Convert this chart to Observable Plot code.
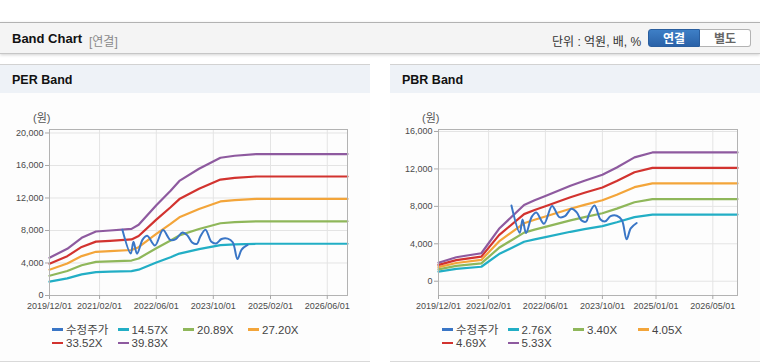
<!DOCTYPE html>
<html>
<head>
<meta charset="utf-8">
<script src="https://cdn.jsdelivr.net/npm/d3@7"></script>
<script src="https://cdn.jsdelivr.net/npm/@observablehq/plot@0.6"></script>
<style>
  html, body { margin: 0; padding: 0; background: #fff; }
  #root { position: relative; width: 760px; height: 364px; overflow: hidden; background: #fff;
    font-family: "Liberation Sans", Arial, "Noto Sans CJK KR", sans-serif; }
  .abs { position: absolute; }
  .topbar { left: 0; top: 22px; width: 760px; height: 30px; background: #f4f4f4;
    border-top: 1px solid #b2b2b2; border-bottom: 1px solid #c6c6c6; box-shadow: 0 1px 3px rgba(0,0,0,0.18); }
  .title { font-weight: bold; font-size: 13px; color: #111; white-space: nowrap; }
  .sub { font-size: 12px; color: #8a8a8a; white-space: nowrap; }
  .unit { font-size: 12px; color: #333; white-space: nowrap; }
  .btn { height: 18px; line-height: 18px; text-align: center; font-size: 12px; font-weight: bold; box-sizing: border-box; }
  .panel { top: 64px; width: 370px; height: 298px; background: #fdfdfd; border-top: 1px solid #d2d2d2; border-bottom: 1px solid #d9d9d9; box-sizing: border-box; }
  .phead { left: 0; top: 0; width: 370px; height: 28px; background: #eef2f7; }
  .ptitle { left: 12px; top: 8px; font-weight: bold; font-size: 12.5px; color: #111; white-space: nowrap; }
  .unitlbl { font-size: 11px; color: #555; white-space: nowrap; }
  .leg { font-size: 11.5px; color: #444; white-space: nowrap; height: 13px; line-height: 13px; }
  .sw { display: inline-block; width: 11px; height: 2.5px; vertical-align: middle; margin-right: 3px; position: relative; top: -1px; }
</style>
</head>
<body>
<div id="root">
  <div class="abs topbar"></div>
  <div class="abs title" style="left:12px;top:31px;">Band Chart</div>
  <div class="abs sub" style="left:89px;top:32px;">[연결]</div>
  <div class="abs unit" style="left:552px;top:32px;">단위 : 억원, 배, %</div>
  <div class="abs btn" style="left:648px;top:29px;width:52px;color:#fff;background:linear-gradient(#3e7fc6,#2a62a8);border:1px solid #2a5e9e;border-radius:3px 0 0 3px;">연결</div>
  <div class="abs btn" style="left:700px;top:29px;width:51px;color:#666;background:#fff;border:1px solid #b3b3b3;border-left:none;border-radius:0 3px 3px 0;">별도</div>

  <div class="abs panel" style="left:0;">
    <div class="abs phead"></div>
    <div class="abs ptitle">PER Band</div>
  </div>
  <div class="abs panel" style="left:390px;">
    <div class="abs phead"></div>
    <div class="abs ptitle">PBR Band</div>
  </div>

  <div class="abs unitlbl" style="left:33px;top:109px;">(원)</div>
  <div class="abs unitlbl" style="left:422px;top:109px;">(원)</div>

  <div id="perChart" class="abs" style="left:0;top:100px;"></div>
  <div id="pbrChart" class="abs" style="left:390px;top:100px;"></div>
  <div id="perLegend"></div>
  <div id="pbrLegend"></div>
</div>
<script>
// ---------- data ----------
const perXTicks = ["2019-12-01", "2021-02-01", "2022-06-01", "2023-10-01", "2025-02-01", "2026-06-01"];
const pbrXTicks = ["2019-12-01", "2021-02-01", "2022-06-01", "2023-10-01", "2025-01-01", "2026-05-01"];
const perYTicks = [0, 4000, 8000, 12000, 16000, 20000];
const pbrYTicks = [0, 4000, 8000, 12000, 16000];

const perLabels = ["수정주가", "14.57X", "20.89X", "27.20X", "33.52X", "39.83X"];
const pbrLabels = ["수정주가", "2.76X", "3.40X", "4.05X", "4.69X", "5.33X"];
const seriesColors = ["#3a76c6", "#22aec5", "#8fb75a", "#f3a53a", "#d2332f", "#8e5a9f"];

// 수정주가 (adjusted price) – same series in both charts
const priceDates = ["2021-08-15", "2021-10-25", "2021-11-18", "2021-12-18", "2022-02-05", "2022-03-15",
  "2022-05-20", "2022-07-28", "2022-09-28", "2022-11-15", "2023-01-10", "2023-02-22", "2023-04-05",
  "2023-05-15", "2023-06-10", "2023-07-26", "2023-09-15", "2023-10-25", "2023-12-10", "2024-02-01",
  "2024-03-15", "2024-04-25", "2024-05-30", "2024-07-20"];
const price = [8100, 5180, 6600, 5150, 6900, 7350, 6150, 8050, 6850, 6950, 7750, 7390, 6500,
  6360, 7200, 8100, 6600, 6400, 6950, 7000, 6550, 4480, 5650, 6220];

// PER band lines
const perDates = ["2019-12-01", "2020-05-01", "2020-09-01", "2021-01-01", "2021-05-01", "2021-11-01",
  "2022-01-01", "2022-06-01", "2022-10-01", "2022-12-15", "2023-06-01", "2023-12-01", "2024-04-01",
  "2024-10-01", "2026-11-21"];
const per1457 = [1700, 2104, 2598, 2882, 2927, 3000, 3182, 4061, 4719, 5158, 5707, 6201, 6291, 6366, 6366];
const per2089 = [2438, 3016, 3725, 4132, 4197, 4301, 4562, 5822, 6766, 7395, 8183, 8891, 9020, 9127, 9127];
const per2720 = [3174, 3928, 4850, 5380, 5464, 5600, 5940, 7581, 8810, 9629, 10654, 11576, 11745, 11884, 11884];
const per3352 = [3912, 4840, 5977, 6630, 6734, 6902, 7321, 9342, 10857, 11866, 13130, 14266, 14474, 14645, 14645];
const per3983 = [4648, 5751, 7102, 7878, 8002, 8201, 8699, 11101, 12901, 14100, 15601, 16952, 17199, 17402, 17402];

// PBR band lines
const pbrDates = ["2019-12-01", "2020-05-01", "2020-12-01", "2021-05-01", "2021-12-01", "2022-03-01",
  "2022-06-01", "2023-01-01", "2023-05-01", "2023-10-01", "2024-02-01", "2024-07-01", "2024-12-01",
  "2026-11-28"];
const pbr276 = [1025, 1326, 1548, 2900, 4220, 4479, 4712, 5282, 5561, 5893, 6297, 6851, 7125, 7125];
const pbr340 = [1263, 1633, 1907, 3572, 5199, 5518, 5805, 6507, 6851, 7259, 7757, 8439, 8777, 8777];
const pbr405 = [1505, 1945, 2272, 4255, 6193, 6573, 6915, 7750, 8161, 8647, 9240, 10053, 10455, 10455];
const pbr469 = [1742, 2253, 2631, 4928, 7171, 7611, 8007, 8975, 9450, 10014, 10700, 11641, 12108, 12108];
const pbr533 = [1980, 2560, 2990, 5600, 8150, 8650, 9100, 10200, 10740, 11380, 12160, 13230, 13760, 13760];

// ---------- drawing ----------
const D = s => new Date(s + "T00:00:00Z");
const toRows = (dates, vals) => dates.map((d, i) => ({date: D(d), v: vals[i]}));

function bandChart({xDomain, xTicks, yDomain, yTicks, bands, marginLeft}) {
  const lineMarks = bands.map((vals, i) =>
    Plot.line(toRows(vals.dates, vals.v), {x: "date", y: "v", stroke: seriesColors[i + 1], strokeWidth: 2.2})
  );
  return Plot.plot({
    width: 370, height: 220,
    marginLeft, marginRight: 23, marginTop: 29, marginBottom: 25,
    style: {fontFamily: "'Liberation Sans', Arial, sans-serif", fontSize: "9px", color: "#4a4a4a", background: "transparent", overflow: "visible"},
    x: {type: "utc", domain: xDomain.map(D)},
    y: {domain: yDomain},
    marks: [
      Plot.gridX(xTicks.map(D), {stroke: "#e4e4e4", strokeOpacity: 1}),
      Plot.gridY(yTicks, {stroke: "#e4e4e4", strokeOpacity: 1}),
      ...lineMarks,
      Plot.line(toRows(priceDates, price), {x: "date", y: "v", stroke: seriesColors[0], strokeWidth: 2, curve: "catmull-rom"}),
      Plot.frame({stroke: "#b3b3b3"}),
      Plot.axisX(xTicks.map(D), {tickFormat: d3.utcFormat("%Y/%m/%d"), tickSize: 4, tickPadding: 3, stroke: "#a8a8a8", fill: "#4a4a4a", label: null}),
      Plot.axisY(yTicks, {tickFormat: d3.format(","), tickSize: 4, tickPadding: 2, stroke: "#a8a8a8", fill: "#4a4a4a", label: null})
    ]
  });
}

document.getElementById("perChart").appendChild(bandChart({
  xDomain: ["2019-12-01", "2026-11-21"], xTicks: perXTicks,
  yDomain: [0, 20430], yTicks: perYTicks, marginLeft: 49,
  bands: [per1457, per2089, per2720, per3352, per3983].map(v => ({dates: perDates, v}))
}));
document.getElementById("pbrChart").appendChild(bandChart({
  xDomain: ["2019-12-01", "2026-11-28"], xTicks: pbrXTicks,
  yDomain: [-1525, 16213], yTicks: pbrYTicks, marginLeft: 48,
  bands: [pbr276, pbr340, pbr405, pbr469, pbr533].map(v => ({dates: pbrDates, v}))
}));

function legend(id, labels, left) {
  const el = document.getElementById(id);
  const cols = [52, 117.5, 183, 248];
  labels.forEach((lab, i) => {
    const d = document.createElement("div");
    d.className = "abs leg";
    d.style.left = (left + cols[i % 4]) + "px";
    d.style.top = (i < 4 ? 323.5 : 337) + "px";
    d.innerHTML = `<span class="sw" style="background:${seriesColors[i]}"></span>${lab}`;
    el.appendChild(d);
  });
}
legend("perLegend", perLabels, 0);
legend("pbrLegend", pbrLabels, 390);
</script>
</body>
</html>
